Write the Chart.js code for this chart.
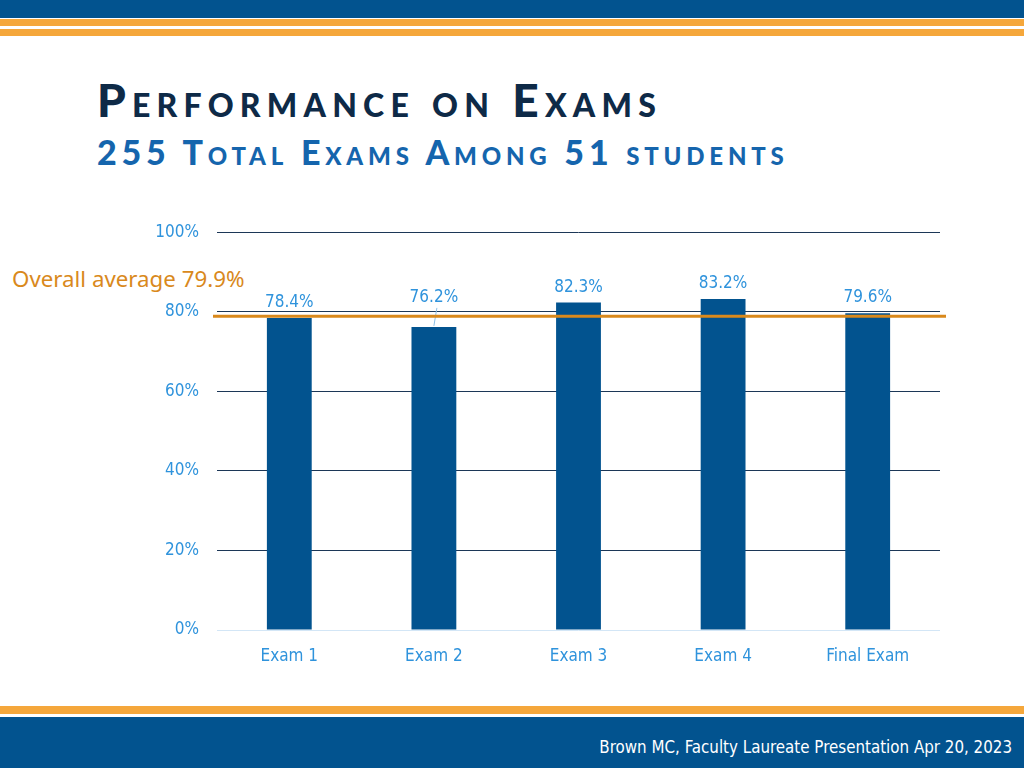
<!doctype html>
<html>
<head>
    <title>Performance on Exams</title>
    <script src="https://cdn.jsdelivr.net/npm/chart.js@4/dist/chart.umd.min.js"></script>
    <style>
    body {
        margin: 0;
        width: 1024px;
        height: 768px;
        position: relative;
        overflow: hidden;
        background: #fff;
        font-family: "DejaVu Sans Condensed", "DejaVu Sans", sans-serif;
    }
    .band { position: absolute; left: 0; width: 1024px; }
    #title {
        position: absolute; left: 97px; top: 77px; margin: 0;
        font-family: Lato, sans-serif; font-weight: 900; font-size: 46px; letter-spacing: 6.2px;
        font-variant: small-caps; color: #0e2a47; line-height: 1; white-space: nowrap;
    }
    #subtitle {
        position: absolute; left: 97px; top: 135px; margin: 0;
        font-family: Lato, sans-serif; font-weight: 900; font-size: 34px; letter-spacing: 4.8px;
        font-variant: small-caps; color: #1565ad; line-height: 1; white-space: nowrap;
    }
    #avg {
        position: absolute; left: 12px; top: 268px;
        font-family: "Noto Sans", sans-serif; font-size: 22.3px; color: #d9891c;
        line-height: 1; white-space: nowrap;
    }
    #footer {
        position: absolute; right: 12px; top: 739px;
        font-size: 16.8px; color: #fff; line-height: 1; white-space: nowrap;
    }
    #chart-holder { position: absolute; left: 140px; top: 204px; width: 810px; height: 481px; }
    </style>
</head>
<body>
    <div class="band" style="top:0;height:18px;background:#02538f"></div>
    <div class="band" style="top:19px;height:7px;background:#f5a73b"></div>
    <div class="band" style="top:29px;height:7px;background:#f5a73b"></div>
    <div class="band" style="top:706px;height:8px;background:#f5a73b"></div>
    <div class="band" style="top:717px;height:51px;background:#02538f"></div>

    <h1 id="title">Performance on Exams</h1>
    <h2 id="subtitle">255 Total Exams Among 51 students</h2>
    <div id="avg">Overall average 79.9%</div>
    <div id="footer">Brown MC, Faculty Laureate Presentation Apr 20, 2023</div>

    <div id="chart-holder">
        <canvas id="chart-area"></canvas>
    </div>

    <script>
    // data
    var exams = ["Exam 1", "Exam 2", "Exam 3", "Exam 4", "Final Exam"];
    var scores = [78.4, 76.2, 82.3, 83.2, 79.6];
    var overallAverage = 79.9;
    var yTicks = [0, 20, 40, 60, 80, 100];

    var barBlue = "#02538f";
    var tickBlue = "#2f93dc";
    var gridNavy = "#1c3757";
    var avgOrange = "#d9891c";

    // value labels above bars, label for Exam 2 is lifted with a leader line
    var labelLift = { 1: 14 };
    var valueLabels = {
        id: 'valueLabels',
        afterDatasetsDraw: function(chart) {
            var ctx = chart.ctx;
            var meta = chart.getDatasetMeta(0);
            ctx.save();
            ctx.font = '17px "DejaVu Sans Condensed", sans-serif';
            ctx.fillStyle = tickBlue;
            ctx.textAlign = 'center';
            ctx.textBaseline = 'bottom';
            meta.data.forEach(function(bar, i) {
                var lift = labelLift[i] || 0;
                var ty = bar.y - 7 - lift;
                ctx.fillText(scores[i].toFixed(1) + '%', bar.x, ty);
                if (lift) {
                    ctx.strokeStyle = '#8cbfe6';
                    ctx.lineWidth = 1;
                    ctx.beginPath();
                    ctx.moveTo(bar.x + 3, ty + 2);
                    ctx.lineTo(bar.x, bar.y - 1);
                    ctx.stroke();
                }
            });
            ctx.restore();
        }
    };

    // overall average line, runs a little past the plot area
    var averageLine = {
        id: 'averageLine',
        afterDatasetsDraw: function(chart) {
            var ctx = chart.ctx;
            var y = chart.scales.y.getPixelForValue(overallAverage) + 4;
            ctx.save();
            ctx.strokeStyle = avgOrange;
            ctx.lineWidth = 3;
            ctx.beginPath();
            ctx.moveTo(chart.chartArea.left - 4, y);
            ctx.lineTo(chart.chartArea.right + 6, y);
            ctx.stroke();
            ctx.restore();
        }
    };

    var config = {
        type: 'bar',
        data: {
            labels: exams,
            datasets: [{
                label: 'Average score',
                data: scores,
                backgroundColor: barBlue,
                barPercentage: 0.62,
                categoryPercentage: 0.5
            }]
        },
        options: {
            responsive: true,
            maintainAspectRatio: false,
            animation: false,
            layout: { padding: { top: 5, right: 10, left: 0, bottom: 0 } },
            plugins: {
                legend: { display: false },
                tooltip: { enabled: false }
            },
            scales: {
                y: {
                    min: 0,
                    max: 100,
                    afterBuildTicks: function(scale) {
                        scale.ticks = yTicks.map(function(v) { return { value: v }; });
                    },
                    afterFit: function(scale) { scale.width = 77; },
                    border: { display: false },
                    grid: {
                        drawTicks: false,
                        lineWidth: 1,
                        color: function(c) { return c.tick && c.tick.value === 0 ? '#d3e6f6' : gridNavy; }
                    },
                    ticks: {
                        padding: 18,
                        color: tickBlue,
                        font: { family: '"DejaVu Sans Condensed", sans-serif', size: 17 },
                        callback: function(v) { return v + '%'; }
                    }
                },
                x: {
                    afterFit: function(scale) { scale.height = 55; },
                    border: { display: false },
                    grid: { display: false },
                    ticks: {
                        padding: 8,
                        color: tickBlue,
                        font: { family: '"DejaVu Sans Condensed", sans-serif', size: 17 }
                    }
                }
            }
        },
        plugins: [valueLabels, averageLine]
    };

    window.onload = function() {
        var ctx = document.getElementById("chart-area").getContext("2d");
        window.examChart = new Chart(ctx, config);
    };
    </script>
</body>
</html>
